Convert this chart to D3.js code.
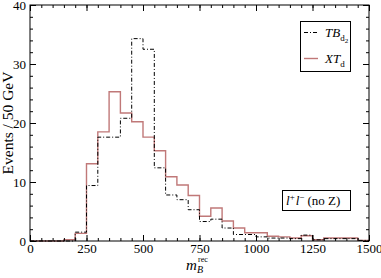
<!DOCTYPE html>
<html>
<head>
<meta charset="utf-8">
<script src="https://cdn.jsdelivr.net/npm/d3@7"></script>
<style>
  body { margin: 0; background: #fff; }
  svg  { display: block; }
</style>
</head>
<body>
<div id="chart"></div>
<script>
// ############################################################################
// Data
// ############################################################################

// bin lower edges (GeV), bins are 50 GeV wide
const binEdges = [
     0,   50,  100,  150,  200,  250,  300,  350,  400,  450,
   500,  550,  600,  650,  700,  750,  800,  850,  900,  950,
  1000, 1050, 1100, 1150, 1200, 1250, 1300, 1350, 1400, 1450
]
const binWidth = 50

const tbValues = [
  0, 0, 0, 0, 1.5, 9.4, 17.6, 17.6, 20.8, 34.3,
  32.5, 12.4, 7.8, 7.0, 5.3, 3.3, 3.7, 2.2, 1.1, 1.1,
  0.7, 0.5, 0.5, 0.4, 1.0, 0.2, 0.4, 0.4, 0.4, 0.1
]

const xtValues = [
  0, 0, 0, 0.2, 1.3, 13.1, 18.5, 25.3, 21.7, 20.2,
  17.6, 15.3, 10.9, 9.5, 7.7, 4.2, 5.6, 3.4, 2.2, 1.4,
  1.4, 0.8, 0.7, 0.5, 0.9, 0.2, 0.5, 0.5, 0.5, 0.1
]

const xTicks = [0, 250, 500, 750, 1000, 1250, 1500]
const yTicks = [0, 10, 20, 30, 40]


// ############################################################################
// Setup
// ############################################################################

const width  = 381
const height = 278
const margin = { top: 5, right: 12, bottom: 37, left: 30 }
const font   = "'Liberation Serif', 'Times New Roman', serif"

const svg = d3.select("#chart").append("svg")
  .attr("width", width)
  .attr("height", height)
  .style("font-family", font)

const x = d3.scaleLinear()
  .domain([0, 1500])
  .range([margin.left, width - margin.right])

const y = d3.scaleLinear()
  .domain([0, 40])
  .range([height - margin.bottom, margin.top])


// ============================================================================
// Histograms (step outlines)
// ============================================================================

function steps(values)
{
  let pts = []
  binEdges.forEach((e, i) => {
    pts.push([e, values[i]])
    pts.push([e + binWidth, values[i]])
  })
  return pts
}

const line = d3.line()
  .x(d => x(d[0]))
  .y(d => y(d[1]))

svg.append("path")
  .attr("d", line(steps(xtValues)))
  .attr("fill", "none")
  .attr("stroke", "#c07878")
  .attr("stroke-width", 1.4)

svg.append("path")
  .attr("d", line(steps(tbValues)))
  .attr("fill", "none")
  .attr("stroke", "#000")
  .attr("stroke-width", 1)
  .attr("stroke-dasharray", "4,2,1,2")


// ============================================================================
// Axes (ticks inward on all four sides)
// ============================================================================

const xMinor = d3.range(0, 1501, 50)
const yMinor = d3.range(0, 41, 2)
const plain  = d3.format("d")

const axes = [
  d3.axisBottom(x).tickValues(xTicks).tickSize(-6).tickPadding(3).tickFormat(plain),
  d3.axisTop(x).tickValues(xTicks).tickSize(-6).tickFormat(""),
  d3.axisLeft(y).tickValues(yTicks).tickSize(-6).tickPadding(4).tickFormat(plain),
  d3.axisRight(y).tickValues(yTicks).tickSize(-6).tickFormat("")
]
const minors = [
  d3.axisBottom(x).tickValues(xMinor).tickSize(-3).tickFormat(""),
  d3.axisTop(x).tickValues(xMinor).tickSize(-3).tickFormat(""),
  d3.axisLeft(y).tickValues(yMinor).tickSize(-3).tickFormat(""),
  d3.axisRight(y).tickValues(yMinor).tickSize(-3).tickFormat("")
]
const offsets = [
  `translate(0,${y(0)})`,
  `translate(0,${y(40)})`,
  `translate(${x(0)},0)`,
  `translate(${x(1500)},0)`
]

axes.forEach((a, i) => {
  for (let ax of [minors[i], a])
  {
    const g = svg.append("g")
      .attr("transform", offsets[i])
      .call(ax)
    g.select(".domain").remove()
    g.selectAll("line").attr("stroke", "#000")
    g.selectAll("text")
      .attr("fill", "#000")
      .style("font-family", font)
      .style("font-size", "13px")
  }
})

// frame
svg.append("rect")
  .attr("x", x(0))
  .attr("y", y(40))
  .attr("width", x(1500) - x(0))
  .attr("height", y(0) - y(40))
  .attr("fill", "none")
  .attr("stroke", "#000")
  .attr("stroke-width", 1)


// ============================================================================
// Axis titles
// ============================================================================

svg.append("text")
  .attr("transform", `translate(13,${(y(0) + y(40)) / 2}) rotate(-90)`)
  .attr("text-anchor", "middle")
  .style("font-size", "15.5px")
  .text("Events / 50 GeV")

const xt = svg.append("g").attr("transform", "translate(186,270)")
xt.append("text")
  .style("font-size", "15px").style("font-style", "italic")
  .text("m")
xt.append("text")
  .attr("x", 11).attr("y", 3)
  .style("font-size", "10px").style("font-style", "italic")
  .text("B")
xt.append("text")
  .attr("x", 12).attr("y", -8)
  .style("font-size", "8px")
  .text("rec")


// ============================================================================
// Legend
// ============================================================================

const legend = svg.append("g")
svg.append("rect")
  .attr("x", 300.5).attr("y", 21.5)
  .attr("width", 50).attr("height", 50)
  .attr("fill", "#fff").attr("stroke", "#000")
  .lower()

const entries = [
  { main: "TB", sub: "d", subsub: "2", color: "#000", dash: "4,2,1,2", w: 1 },
  { main: "XT", sub: "d", subsub: null, color: "#c07878", dash: null, w: 1.4 }
]
entries.forEach((e, i) => {
  const yy = 32.5 + i * 26
  legend.append("line")
    .attr("x1", 304).attr("x2", 318)
    .attr("y1", yy).attr("y2", yy)
    .attr("stroke", e.color)
    .attr("stroke-width", e.w)
    .attr("stroke-dasharray", e.dash)
  const t = legend.append("text")
    .attr("x", 325).attr("y", yy + 4)
    .style("font-size", "13px")
  t.append("tspan").style("font-style", "italic").text(e.main)
  t.append("tspan").attr("dy", 4).style("font-size", "9px").text(e.sub)
  if (e.subsub)
    t.append("tspan").attr("dy", 2).style("font-size", "7px").text(e.subsub)
})

// channel label box
svg.append("rect")
  .attr("x", 282.5).attr("y", 190.5)
  .attr("width", 68).attr("height", 20)
  .attr("fill", "#fff").attr("stroke", "#000")

const ch = svg.append("text")
  .attr("x", 286).attr("y", 205)
  .style("font-size", "13px")
ch.append("tspan").style("font-style", "italic").text("l")
ch.append("tspan").attr("dy", -5).style("font-size", "9px").text("+")
ch.append("tspan").attr("dy", 5).attr("dx", 1).style("font-style", "italic").text("l")
ch.append("tspan").attr("dy", -5).style("font-size", "9px").text("\u2212")
ch.append("tspan").attr("dy", 5).attr("dx", 3).text("(no Z)")
</script>
</body>
</html>
